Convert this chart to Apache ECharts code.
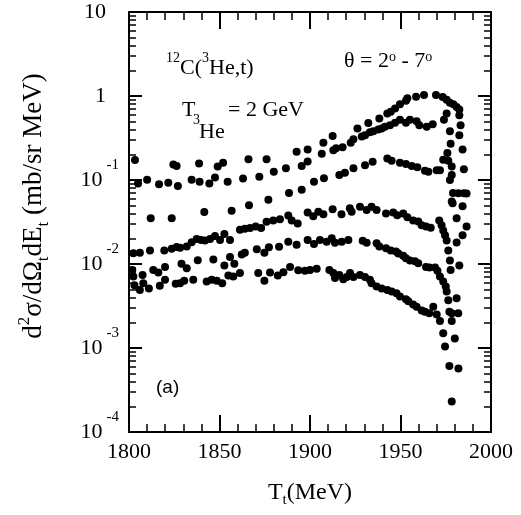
<!DOCTYPE html>
<html>
<head>
<meta charset="utf-8">
<script src="https://cdn.jsdelivr.net/npm/echarts@6/dist/echarts.min.js"></script>
<style>html,body{margin:0;padding:0;background:#fff}#c{width:521px;height:515px}</style>
</head>
<body>
<div id="c"></div>
<script>
// ---- data: [T_t (MeV), d2sigma/dOmega dE (mb/sr MeV)] ----
const series1 = [[1803.3,0.173],[1824.5,0.153],[1826.3,0.147],[1838.7,0.157],[1849,0.145],[1852,0.161],[1866,0.177],[1876,0.177],[1892.6,0.217],[1898.7,0.23],[1907.4,0.277],[1912.5,0.334],[1926.2,0.41],[1932.2,0.477],[1938.3,0.54],[1942.7,0.62],[1944.6,0.65],[1947,0.71],[1949.7,0.80],[1953,0.88],[1953.8,0.94],[1958.6,0.98],[1963,1.03],[1969.6,1.03],[1973.3,0.97],[1975.5,0.90],[1977.3,0.83],[1979.2,0.80],[1981,0.74],[1982.5,0.69],[1982.5,0.59],[1983.2,0.45],[1982.5,0.34],[1984.3,0.23],[1985,0.134],[1986.5,0.069],[1984.3,0.0486]];
const series2 = [[1805,0.091],[1810,0.101],[1816.6,0.089],[1821.7,0.093],[1827,0.085],[1834.6,0.101],[1839,0.095],[1844.4,0.091],[1847.5,0.107],[1854.5,0.095],[1863,0.104],[1872,0.109],[1880,0.125],[1886.7,0.138],[1895.4,0.147],[1898.7,0.166],[1906.5,0.205],[1912.9,0.226],[1914.4,0.238],[1918,0.245],[1922.5,0.277],[1924,0.305],[1928.6,0.33],[1930.4,0.34],[1933.1,0.37],[1935,0.38],[1937.7,0.40],[1939.6,0.41],[1941.4,0.43],[1944.2,0.45],[1947,0.48],[1949.7,0.52],[1953,0.48],[1955.2,0.52],[1958.9,0.50],[1960.4,0.45],[1964.5,0.43],[1967.8,0.46],[1974,0.52],[1975.5,0.62],[1977.3,0.38],[1977.7,0.27],[1975.9,0.21],[1976.4,0.17],[1978.3,0.145],[1977.3,0.10]];
const series3 = [[1812,0.035],[1823.6,0.035],[1841.6,0.0416],[1856.7,0.043],[1866.3,0.05],[1877,0.0582],[1888.4,0.0698],[1895.4,0.0763],[1902.2,0.095],[1907.7,0.105],[1916.2,0.115],[1919.3,0.122],[1924,0.138],[1930.4,0.15],[1934.6,0.165],[1942.7,0.18],[1945.1,0.17],[1949.7,0.16],[1953,0.155],[1956.2,0.147],[1959.3,0.142],[1963.5,0.129],[1965.4,0.125],[1970,0.131],[1971.8,0.131],[1973.6,0.174],[1978.3,0.115],[1979,0.07],[1981.9,0.0694],[1985,0.0694],[1978.8,0.053],[1978.3,0.0555]];
const series4 = [[1802.4,0.0134],[1806,0.0136],[1811.6,0.0145],[1819.5,0.0145],[1823.6,0.0152],[1826.3,0.0159],[1828.2,0.0156],[1831.9,0.0162],[1834.6,0.0181],[1837.4,0.0198],[1839.8,0.0193],[1842,0.019],[1844.8,0.0198],[1847.5,0.0215],[1850.3,0.0193],[1852.7,0.0227],[1855.8,0.0193],[1861.3,0.0256],[1864,0.0262],[1866.9,0.0268],[1870,0.028],[1873,0.0268],[1876,0.0318],[1879.7,0.0329],[1883.4,0.0342],[1888,0.0377],[1889.9,0.0329],[1893.2,0.0304],[1898.7,0.041],[1901.8,0.037],[1904.6,0.042],[1907.4,0.039],[1912.5,0.045],[1917.4,0.039],[1922,0.046],[1923,0.042],[1927.6,0.048],[1931.3,0.044],[1934,0.048],[1936.8,0.044],[1942,0.040],[1946,0.041],[1948.2,0.038],[1951.5,0.040],[1953.8,0.036],[1957,0.033],[1959.8,0.032],[1961.7,0.029],[1964.1,0.028],[1966.7,0.027],[1971.4,0.033],[1972.7,0.029],[1973.6,0.025],[1974.6,0.022],[1975.5,0.019],[1976.4,0.0145],[1977.3,0.011],[1981,0.035],[1986.5,0.028],[1984.3,0.022],[1981,0.018]];
const series5 = [[1801.8,0.0085],[1807.5,0.0074],[1813.4,0.0085],[1816.2,0.0079],[1819.9,0.0092],[1829,0.0101],[1831.9,0.0089],[1838,0.0111],[1846.6,0.0113],[1852.7,0.0096],[1855.8,0.0121],[1858.2,0.0101],[1862.3,0.013],[1864,0.0136],[1870.6,0.015],[1874.8,0.0136],[1877.3,0.0158],[1882.9,0.0161],[1888,0.0184],[1892.6,0.0169],[1898.7,0.0193],[1902.2,0.0173],[1905.5,0.0193],[1909.2,0.0184],[1912,0.0202],[1913.8,0.0179],[1917.5,0.0184],[1921.2,0.0193],[1929.1,0.0189],[1931.3,0.0179],[1936.8,0.0177],[1938.3,0.0162],[1942,0.0154],[1944.6,0.0145],[1947.5,0.0141],[1948.8,0.0133],[1951.5,0.0125],[1953,0.0117],[1955.2,0.011],[1958,0.0108],[1959.8,0.0102],[1964.1,0.0092],[1966,0.0091],[1969.1,0.0091],[1970.4,0.0083],[1971.8,0.0071],[1973.6,0.0062],[1975,0.0054],[1975.5,0.0047],[1976.4,0.0037],[1977,0.0027],[1978.3,0.0021],[1977.7,0.0085],[1982.5,0.0096],[1981,0.0039],[1981.9,0.0026],[1978.3,0.0026]];
const series6 = [[1802.4,0.0071],[1803,0.0056],[1806,0.0049],[1807.9,0.0059],[1811,0.0051],[1817,0.0055],[1819.9,0.0065],[1825.8,0.0058],[1828.2,0.0059],[1830.5,0.0063],[1835.5,0.0065],[1842.9,0.0062],[1845.7,0.0065],[1848.5,0.0063],[1851.5,0.0059],[1854.9,0.0073],[1857.6,0.0071],[1861.3,0.0078],[1871.4,0.0078],[1874.8,0.0063],[1877.9,0.0079],[1882.2,0.0073],[1885.3,0.008],[1889,0.0092],[1893.5,0.0084],[1897.2,0.0083],[1900,0.0085],[1903.7,0.0088],[1910.7,0.0085],[1912.9,0.0078],[1913.8,0.0068],[1916.2,0.0074],[1918.4,0.0066],[1920.3,0.007],[1922.1,0.0078],[1924,0.007],[1927.6,0.0074],[1930.4,0.007],[1933.1,0.0065],[1934,0.0059],[1936.8,0.0054],[1939.6,0.0051],[1942.7,0.0049],[1945.1,0.0047],[1947.8,0.0045],[1949.7,0.0041],[1953,0.0038],[1954.3,0.0036],[1957,0.0033],[1958.9,0.0031],[1961.7,0.0028],[1963.5,0.0027],[1965.9,0.0026],[1968.1,0.0031],[1970,0.0025],[1971.8,0.0021],[1973.6,0.0015],[1974.6,0.00104],[1980,0.0013],[1977,0.00061],[1982,0.00057],[1978.3,0.00023]];

const xTickLabels = ['1800','1850','1900','1950','2000'];
const yDecades = [1e-4, 1e-3, 1e-2, 1e-1, 1, 10];
const minorFactors = [2,3,4,5,6,7,8,9];

// ---- chart ----
const SERIF = 'Liberation Serif';
const minorLogs = [];
for (let e = -4; e <= 0; e++) minorFactors.forEach(k => minorLogs.push(Math.log10(k) + e));

function yLabel(v) {
  const e = Math.round(Math.log10(v));
  if (e === 1) return '{p|10}';
  if (e === 0) return '{p|1}';
  return '{b|10}{s|' + e + '}';
}

const chart = echarts.init(document.getElementById('c'), null, {renderer: 'canvas'});
const frame = {color: '#000', width: 2};
const baseX = {
  type: 'value', min: 1800, max: 2000, interval: 50,
  axisLine: {show: true, onZero: false, lineStyle: frame},
  axisTick: {show: true, inside: true, length: 17, lineStyle: {color: '#000', width: 2}},
  minorTick: {show: true, splitNumber: 5, length: 8, lineStyle: {color: '#000', width: 1.5}},
  splitLine: {show: false}, minorSplitLine: {show: false}
};
const baseYLog = {
  type: 'log', logBase: 10, min: 1e-4, max: 10,
  axisLine: {show: true, onZero: false, lineStyle: frame},
  axisTick: {show: true, inside: true, length: 13, lineStyle: {color: '#000', width: 2}},
  splitLine: {show: false}
};
const baseYMinor = {
  type: 'value', min: -4, max: 1,
  axisLine: {show: false, onZero: false},
  axisLabel: {show: false},
  axisTick: {show: true, inside: true, length: 7, customValues: minorLogs, lineStyle: {color: '#000', width: 1.5}},
  splitLine: {show: false}
};
const dot = {type: 'scatter', xAxisIndex: 0, yAxisIndex: 0, symbol: 'circle', symbolSize: 8,
  itemStyle: {color: '#000', opacity: 1}, silent: true};

chart.setOption({
  animation: false,
  grid: {left: 129, right: 30, top: 12, bottom: 83},
  xAxis: [
    Object.assign({}, baseX, {
      position: 'bottom',
      axisLabel: {show: true, margin: 9, color: '#000', fontFamily: SERIF, fontSize: 22,
        formatter: v => xTickLabels.includes(String(v)) ? String(v) : ''},
      name: '{a|T}{sb|t}{a|(MeV)}', nameLocation: 'middle', nameGap: 46,
      nameTextStyle: {color: '#000', fontFamily: SERIF, fontSize: 24,
        rich: {a: {fontFamily: SERIF, fontSize: 24, color: '#000', lineHeight: 30},
               sb: {fontFamily: SERIF, fontSize: 15, color: '#000', verticalAlign: 'bottom'}}}
    }),
    Object.assign({}, baseX, {position: 'top', axisLabel: {show: false}})
  ],
  yAxis: [
    Object.assign({}, baseYLog, {
      position: 'left',
      axisLabel: {show: true, margin: 10, formatter: yLabel, color: '#000',
        rich: {
          p: {fontFamily: SERIF, fontSize: 22, color: '#000', padding: [0, 13, 0, 0]},
          b: {fontFamily: SERIF, fontSize: 22, color: '#000', lineHeight: 44, verticalAlign: 'middle'},
          s: {fontFamily: SERIF, fontSize: 15, color: '#000', verticalAlign: 'top', padding: [0, 0, 0, 4]}
        }}
    }),
    Object.assign({}, baseYLog, {position: 'right', axisLabel: {show: false}}),
    Object.assign({}, baseYMinor, {position: 'left'}),
    Object.assign({}, baseYMinor, {position: 'right'})
  ],
  series: [
    Object.assign({}, dot, {name: 'series1', data: series1}),
    Object.assign({}, dot, {name: 'series2', data: series2}),
    Object.assign({}, dot, {name: 'series3', data: series3}),
    Object.assign({}, dot, {name: 'series4', data: series4}),
    Object.assign({}, dot, {name: 'series5', data: series5}),
    Object.assign({}, dot, {name: 'series6', data: series6})
  ],
  graphic: [
    {type: 'text', x: 34, y: 206, rotation: Math.PI / 2, style: {
      text: '{a|d}{sp|2}{a|σ/dΩ}{sb|t}{a|dE}{sb|t}{a| (mb/sr MeV)}',
      align: 'center', verticalAlign: 'middle', fill: '#000',
      rich: {a: {fontFamily: SERIF, fontSize: 27, fill: '#000', lineHeight: 36},
             sp: {fontFamily: SERIF, fontSize: 17, fill: '#000', verticalAlign: 'top'},
             sb: {fontFamily: SERIF, fontSize: 17, fill: '#000', verticalAlign: 'bottom'}}}},
    {type: 'text', left: 166, top: 51, style: {
      text: '{s|12}{a|C(}{s|3}{a|He,t)}', fill: '#000',
      rich: {a: {fontFamily: SERIF, fontSize: 22, fill: '#000', lineHeight: 28, verticalAlign: 'bottom'},
             s: {fontFamily: SERIF, fontSize: 14, fill: '#000', verticalAlign: 'top'}}}},
    {type: 'text', left: 344, top: 50, style: {
      text: 'θ = 2{o|o} - 7{o|o}', fill: '#000', fontFamily: SERIF, fontSize: 22,
      rich: {o: {fontFamily: SERIF, fontSize: 14, fill: '#000', verticalAlign: 'top'}}}},
    {type: 'text', left: 182, top: 99, style: {text: 'T', fill: '#000', fontFamily: SERIF, fontSize: 22}},
    {type: 'text', left: 193, top: 113, style: {text: '3', fill: '#000', fontFamily: SERIF, fontSize: 14}},
    {type: 'text', left: 199, top: 121, style: {text: 'He', fill: '#000', fontFamily: SERIF, fontSize: 22}},
    {type: 'text', left: 228, top: 99, style: {text: '= 2 GeV', fill: '#000', fontFamily: SERIF, fontSize: 22}},
    {type: 'text', left: 156, top: 378, style: {text: '(a)', fill: '#000', fontFamily: 'Liberation Sans', fontSize: 19}}
  ]
});
</script>
</body>
</html>
